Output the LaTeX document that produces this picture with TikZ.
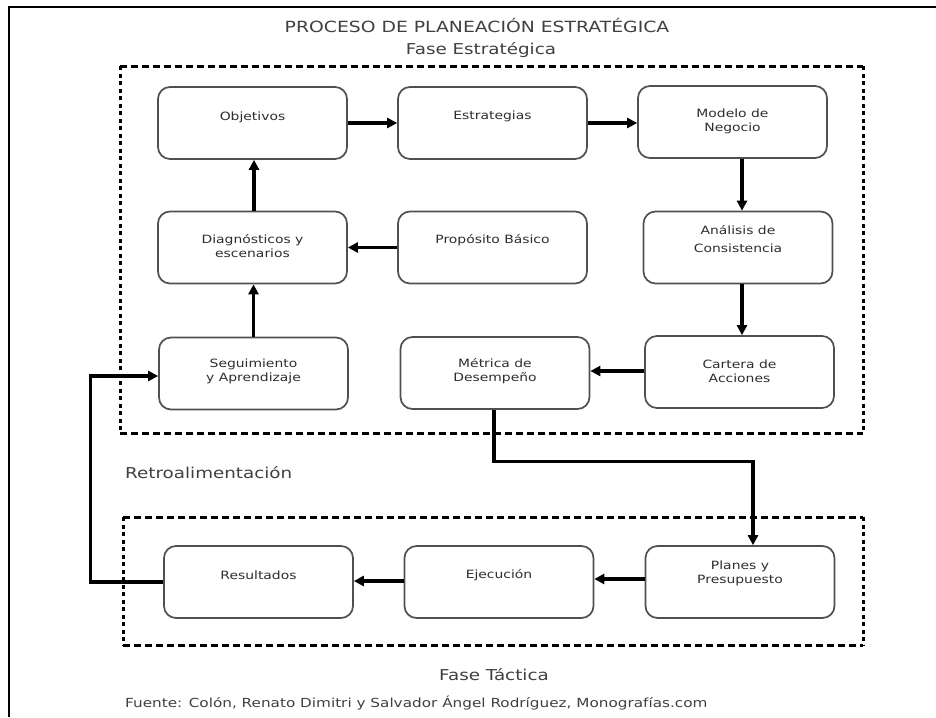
\documentclass[tikz,border=0pt]{standalone}
\usepackage{fontspec}
\setmainfont{DejaVu Sans}[FakeStretch=1.22]
\usetikzlibrary{arrows.meta}
\definecolor{boxline}{HTML}{505050}
\definecolor{txtgray}{HTML}{2E2E2E}
\definecolor{ttlgray}{HTML}{404040}
\begin{document}
\begin{tikzpicture}[x=1pt,y=-1pt,
  box/.style={draw=boxline, line width=1.7pt, rounded corners=12pt,
    minimum width=189pt, minimum height=72pt, inner sep=0pt},
  boxtext/.style={font=\fontsize{11.4}{14}\selectfont, text=txtgray, align=center, inner sep=0pt},
  flow/.style={line width=3.2pt, -{Triangle[length=10pt,width=10pt]}},
  hdash/.style={line width=3pt, dash pattern=on 7pt off 4pt},
  vdash/.style={line width=3pt, dash pattern=on 4pt off 3.5pt},
  heading/.style={font=\fontsize{15}{18}\selectfont, text=ttlgray, inner sep=0pt},
  source/.style={font=\fontsize{12.5}{14}\selectfont, text=ttlgray, inner sep=0pt}
]
\useasboundingbox (0,0) rectangle (936,717);
\fill[white] (0,0) rectangle (936,717);

% page frame
\draw[line width=1.5pt] (936,7) -- (9,7) -- (9,717);

% headings
\node[heading, font=\fontsize{15.4}{18}\selectfont, anchor=base] (title) at (477,33) {PROCESO DE PLANEACIÓN ESTRATÉGICA};
\node[heading, anchor=base] (fase1) at (481,55) {Fase Estratégica};
\node[heading, anchor=base west] (retro) at (125,478) {Retroalimentación};
\node[heading, anchor=base] (fase2) at (494,680) {Fase Táctica};
\node[source, anchor=base west] (fuente) at (125,707) {Fuente: Colón, Renato Dimitri y Salvador Ángel Rodríguez, Monografías.com};

% phase frames
\coordinate (s1) at (120,66);
\coordinate (s2) at (863,433);
\draw[hdash] (s1) -- (s1 -| s2);
\draw[hdash] (s1 |- s2) -- (s2);
\draw[vdash] (s1) -- (s1 |- s2);
\draw[vdash] (s1 -| s2) -- (s2);
\coordinate (t1) at (123,517);
\coordinate (t2) at (863,645);
\draw[hdash] (t1) -- (t1 -| t2);
\draw[hdash] (t1 |- t2) -- (t2);
\draw[vdash] (t1) -- (t1 |- t2);
\draw[vdash] (t1 -| t2) -- (t2);

% boxes
\node[box] (obj)  at (252.5,123)   {};
\node[box] (est)  at (492.5,123)   {};
\node[box] (mod)  at (732.5,122)   {};
\node[box] (diag) at (252.5,247.5) {};
\node[box] (prop) at (492.5,247.5) {};
\node[box] (ana)  at (738,247.5)   {};
\node[box] (seg)  at (253.5,373.5) {};
\node[box] (met)  at (495,373)     {};
\node[box] (car)  at (739.5,372)   {};
\node[box] (res)  at (258.5,582)   {};
\node[box] (eje)  at (499,582)     {};
\node[box] (pla)  at (740,582)     {};

% box texts
\node[boxtext] (objT)  at ([yshift=6pt]obj.center)   {Objetivos};
\node[boxtext] (estT)  at ([yshift=7pt]est.center)   {Estrategias};
\node[boxtext] (modT)  at ([yshift=0.5pt]mod.center) {Modelo de\\Negocio};
\node[boxtext] (diagT) at ([yshift=1pt]diag.center)  {Diagnósticos y\\escenarios};
\node[boxtext] (propT) at ([yshift=7pt]prop.center)  {Propósito Básico};
\node[boxtext, font=\fontsize{11.4}{18}\selectfont] (anaT) at ([yshift=8pt]ana.center) {Análisis de\\Consistencia};
\node[boxtext] (segT)  at ([yshift=2.5pt]seg.center) {Seguimiento\\y Aprendizaje};
\node[boxtext] (metT)  at ([yshift=2pt]met.center)   {Métrica de\\Desempeño};
\node[boxtext] (carT)  at ([yshift=1pt]car.center)   {Cartera de\\Acciones};
\node[boxtext] (resT)  at ([yshift=7pt]res.center)   {Resultados};
\node[boxtext] (ejeT)  at ([yshift=7pt]eje.center)   {Ejecución};
\node[boxtext] (plaT)  at ([yshift=9pt]pla.center)   {Planes y\\Presupuesto};

% strategic flow
\draw[flow] (obj.east) -- (est.west);
\draw[flow] (est.east) -- (est.east -| mod.west);
\draw[flow] ([xshift=9.5pt]mod.south) -- ([xshift=9.5pt]mod.south |- ana.north);
\draw[flow] ([xshift=4pt]ana.south) -- ([xshift=4pt]ana.south |- car.north);
\draw[flow] ([yshift=1pt]car.west) -- ([yshift=1pt]car.west -| met.east);
\draw[flow] (prop.west) -- (diag.east);
\draw[flow] ([xshift=1.5pt]diag.north) -- ([xshift=1.5pt]diag.north |- obj.south);
\draw[flow] (seg.north) -- (seg.north |- diag.south);

% into the tactical phase
\draw[flow] ([xshift=-1pt]met.south) -- ++(0,52) -| ([xshift=13pt]pla.north);
\draw[flow] ([yshift=3pt]pla.west) -- ([yshift=3pt]pla.west -| eje.east);
\draw[flow] ([yshift=1pt]eje.west) -- ([yshift=1pt]eje.west -| res.east);

% feedback loop
\draw[flow] (res.west) -- ++(-73,0) |- ([yshift=-2.5pt]seg.west);
\end{tikzpicture}
\end{document}
